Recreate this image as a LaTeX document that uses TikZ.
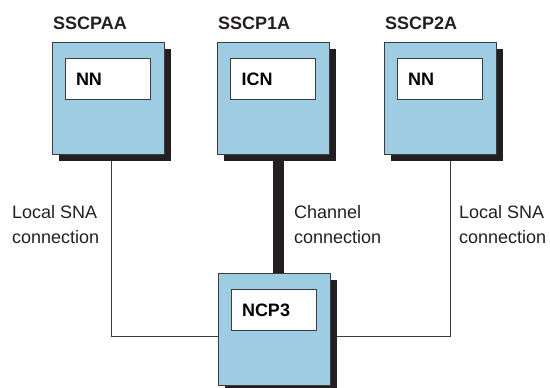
\documentclass[tikz,border=0pt]{standalone}
\usepackage{fontspec}
\setmainfont{Liberation Sans}
\usepackage{tikz}
\usetikzlibrary{shadows,backgrounds}
\definecolor{boxblue}{RGB}{158,204,226}
\definecolor{shadowc}{RGB}{35,31,32}
\definecolor{linec}{RGB}{60,60,60}
\tikzset{
  sscp/.style={draw=linec, line width=0.9bp, fill=boxblue, minimum width=112bp, minimum height=112bp, inner sep=0pt,
    general shadow={fill=shadowc, shadow xshift=6.5bp, shadow yshift=-6.5bp}},
  nau/.style={draw=linec, line width=0.9bp, fill=white, anchor=north west, minimum height=41bp, inner xsep=11bp, inner ysep=0pt,
    text width=63bp, align=left, text height=13bp, text depth=0pt, font=\fontsize{18bp}{24bp}\selectfont\bfseries},
  title/.style={anchor=base west, inner sep=0pt, font=\fontsize{18bp}{24bp}\selectfont\bfseries, text=shadowc},
  lbl/.style={anchor=west, inner sep=0pt, align=left, font=\fontsize{18bp}{25bp}\selectfont, text=shadowc},
  conn/.style={draw=linec, line width=1bp},
  chan/.style={draw=shadowc, line width=11bp}
}
\begin{document}
\begin{tikzpicture}[x=1bp, y=-1bp]
        \useasboundingbox (0, 0) rectangle (550, 387);
        % the hosts and the controller
        \node[sscp] (paa) at (108, 98) {};
        \node[sscp] (p1a) at (273.5, 98) {};
        \node[sscp] (p2a) at (440, 98) {};
        \node[sscp] (ncp) at (274, 329) {};
        % node types
        \node[nau] (nnA) at ([shift={(13, 16)}]paa.north west) {NN};
        \node[nau] (icn) at ([shift={(13, 16)}]p1a.north west) {ICN};
        \node[nau] (nnB) at ([shift={(13, 16)}]p2a.north west) {NN};
        \node[nau] (ncpname) at ([shift={(13, 16)}]ncp.north west) {NCP3};
        % names
        \node[title] (tpaa) at (53, 29) {SSCPAA};
        \node[title] (tp1a) at (218, 29) {SSCP1A};
        \node[title] (tp2a) at (385, 29) {SSCP2A};
        % bend points of the connections
        \coordinate (lbend) at (111, 336);
        \coordinate (rbend) at (450, 336);
        \coordinate (chanx) at (278, 0);
        % connections, behind the boxes
        \begin{pgfonlayer}{background}
          \draw[conn] (paa.south -| lbend) -- (lbend) -- (lbend -| ncp.west);
          \draw[conn] (p2a.south -| rbend) -- (rbend) -- (rbend -| ncp.east);
          \draw[chan] (p1a.south -| chanx) -- (ncp.north -| chanx);
        \end{pgfonlayer}
        % connection labels
        \node[lbl] (llocal) at (12, 225) {Local SNA\\connection};
        \node[lbl] (lchan) at (294, 225) {Channel\\connection};
        \node[lbl] (rlocal) at (459, 225) {Local SNA\\connection};
      \end{tikzpicture}
\end{document}
